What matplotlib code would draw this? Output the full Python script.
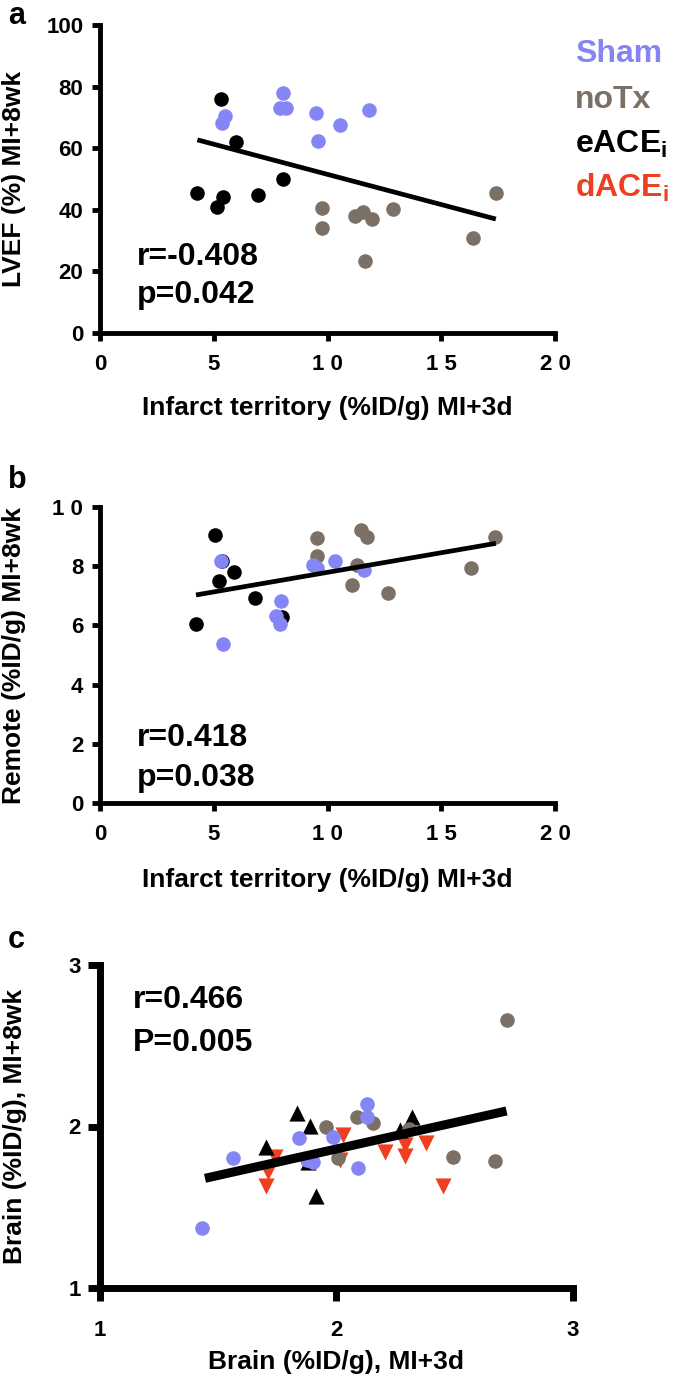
import matplotlib
matplotlib.use("Agg")
import matplotlib.pyplot as plt
import numpy as np

plt.rcParams['font.family'] = ['Liberation Sans', 'DejaVu Sans']
plt.rcParams['font.weight'] = 'bold'
plt.rcParams['mathtext.fontset'] = 'custom'
plt.rcParams['mathtext.rm'] = 'Liberation Sans:bold'
plt.rcParams['mathtext.bf'] = 'Liberation Sans:bold'

# ---------------- colours ----------------
C_SHAM = '#8585F5'
C_NOTX = '#7A7066'
C_EACE = '#000000'
C_DACE = '#EE4020'

# ---------------- panel a data ----------------
a_sham_x = [8.03, 7.91, 8.17, 5.49, 5.38, 9.49, 10.55, 9.57, 11.82]
a_sham_y = [78.0, 73.0, 73.0, 70.5, 68.3, 71.5, 67.5, 62.3, 72.4]
a_notx_x = [9.74, 9.74, 11.23, 11.54, 11.94, 12.89, 11.65, 16.40, 17.40]
a_notx_y = [40.7, 34.0, 38.1, 39.4, 37.0, 40.3, 23.4, 31.0, 45.5]
a_eace_x = [5.32, 5.96, 4.28, 5.42, 5.13, 6.96, 8.06]
a_eace_y = [76.0, 62.1, 45.4, 44.1, 41.0, 44.8, 50.0]
a_fit = (-1.96, 71.1)       # slope, intercept
a_fit_range = (4.28, 17.4)
a_xticks = [0, 5, 10, 15, 20]
a_xticklabels = ['0', '5', '1 0', '1 5', '2 0']
a_yticks = [0, 20, 40, 60, 80, 100]
a_yticklabels = ['0', '20', '40', '60', '80', '100']

# ---------------- panel b data ----------------
b_sham_x = [5.30, 5.39, 7.94, 7.72, 7.91, 9.38, 9.55, 10.35, 11.60]
b_sham_y = [8.19, 5.37, 6.83, 6.32, 6.04, 8.04, 7.95, 8.18, 7.87]
b_notx_x = [9.56, 9.52, 11.46, 11.72, 11.28, 11.06, 12.67, 16.30, 17.35]
b_notx_y = [8.94, 8.34, 9.22, 9.00, 8.04, 7.36, 7.10, 7.95, 9.00]
b_eace_x = [5.05, 5.35, 5.89, 5.23, 6.83, 4.22, 7.98]
b_eace_y = [9.05, 8.18, 7.81, 7.51, 6.94, 6.05, 6.27]
b_fit = (0.1323, 6.47)
b_fit_range = (4.22, 17.4)
b_xticks = [0, 5, 10, 15, 20]
b_xticklabels = ['0', '5', '1 0', '1 5', '2 0']
b_yticks = [0, 2, 4, 6, 8, 10]
b_yticklabels = ['0', '2', '4', '6', '8', '1 0']

# ---------------- panel c data ----------------
c_sham_x = [1.43, 1.564, 1.843, 1.987, 2.131, 2.131, 2.092, 1.874, 1.902]
c_sham_y = [1.37, 1.807, 1.927, 1.937, 2.139, 2.057, 1.741, 1.793, 1.782]
c_notx_x = [1.956, 2.085, 2.153, 2.008, 2.308, 2.494, 2.72, 2.67]
c_notx_y = [1.999, 2.061, 2.020, 1.803, 1.983, 1.809, 2.66, 1.786]
c_eace_x = [1.831, 1.888, 1.70, 1.88, 1.913, 2.32, 2.268]
c_eace_y = [2.082, 2.003, 1.875, 1.78, 1.57, 2.057, 1.978]
c_dace_x = [1.74, 1.712, 1.70, 2.029, 2.015, 2.205, 2.29, 2.29, 2.38, 2.45]
c_dace_y = [1.813, 1.72, 1.632, 1.947, 1.79, 1.845, 1.885, 1.82, 1.895, 1.632]
c_fit = (0.327, 1.207)
c_fit_range = (1.444, 2.719)
c_ticks = [1, 2, 3]
c_ticklabels = ['1', '2', '3']

W, H = 685, 1386
fig = plt.figure(figsize=(W / 100, H / 100), dpi=100)


def box(l, t, r, b):
    return [l / W, 1 - b / H, (r - l) / W, (b - t) / H]


def ftext(x, y, s, **kw):
    fig.text(x / W, 1 - y / H, s, fontweight='bold', **kw)


def style(ax, lw, tl, fs, xpad, ypad):
    for s in ['top', 'right']:
        ax.spines[s].set_visible(False)
    for s in ['left', 'bottom']:
        ax.spines[s].set_linewidth(lw)
        ax.spines[s].set_capstyle('projecting')
    ax.tick_params(width=lw, length=tl, labelsize=fs, direction='out')
    ax.tick_params(axis='x', pad=xpad)
    ax.tick_params(axis='y', pad=ypad)
    for lab in ax.get_xticklabels() + ax.get_yticklabels():
        lab.set_fontweight('bold')


def place_labels(ax, l, t, r, b, ylab_right_px, xlab_top_px):
    w = r - l
    h = b - t
    ax.yaxis.set_label_coords((ylab_right_px - l) / w, 0.5)
    ax.xaxis.set_label_coords(0.5, -(xlab_top_px - b) / h)


MS = 110
MT = 135
LAB = 19
TICK = 16
ANN = 23

# ---- panel a ----
A = (100, 25, 555, 333)
axa = fig.add_axes(box(*A))
axa.scatter(a_eace_x, a_eace_y, s=MS, c=C_EACE, linewidths=0, zorder=3, clip_on=False)
axa.scatter(a_notx_x, a_notx_y, s=MS, c=C_NOTX, linewidths=0, zorder=3, clip_on=False)
axa.scatter(a_sham_x, a_sham_y, s=MS, c=C_SHAM, linewidths=0, zorder=3, clip_on=False)
xf = np.array(a_fit_range)
axa.plot(xf, a_fit[0] * xf + a_fit[1], color='black', lw=3.4, zorder=4, solid_capstyle='butt')
axa.set_xlim(0, 20)
axa.set_ylim(0, 100)
axa.set_xticks(a_xticks, a_xticklabels)
axa.set_yticks(a_yticks, a_yticklabels)
style(axa, 3.5, 6, TICK, 9, 6)
axa.set_xlabel('Infarct territory (%ID/g) MI+3d', fontsize=LAB, fontweight='bold')
axa.set_ylabel('LVEF (%) MI+8wk', fontsize=LAB, fontweight='bold')
place_labels(axa, *A, 26, 396)
ftext(137, 265, 'r=-0.408', fontsize=ANN, va='baseline')
ftext(137, 303, 'p=0.042', fontsize=ANN, va='baseline')

# legend text
ftext(575, 62, 'Sham', color=C_SHAM, fontsize=23, va='baseline')
ftext(575, 108, 'noTx', color=C_NOTX, fontsize=23, va='baseline')
ftext(575, 153, r'eACE$_\mathbf{i}$', color=C_EACE, fontsize=23, va='baseline')
ftext(575, 197, r'dACE$_\mathbf{i}$', color=C_DACE, fontsize=23, va='baseline')

# ---- panel b ----
B = (100, 507, 555, 803)
axb = fig.add_axes(box(*B))
axb.scatter(b_eace_x, b_eace_y, s=MS, c=C_EACE, linewidths=0, zorder=3, clip_on=False)
axb.scatter(b_notx_x, b_notx_y, s=MS, c=C_NOTX, linewidths=0, zorder=3, clip_on=False)
axb.scatter(b_sham_x, b_sham_y, s=MS, c=C_SHAM, linewidths=0, zorder=3, clip_on=False)
xf = np.array(b_fit_range)
axb.plot(xf, b_fit[0] * xf + b_fit[1], color='black', lw=3.4, zorder=4, solid_capstyle='butt')
axb.set_xlim(0, 20)
axb.set_ylim(0, 10)
axb.set_xticks(b_xticks, b_xticklabels)
axb.set_yticks(b_yticks, b_yticklabels)
style(axb, 3.5, 6, TICK, 9, 6)
axb.set_xlabel('Infarct territory (%ID/g) MI+3d', fontsize=LAB, fontweight='bold')
axb.set_ylabel('Remote (%ID/g) MI+8wk', fontsize=LAB, fontweight='bold')
place_labels(axb, *B, 26, 868)
ftext(137, 746, 'r=0.418', fontsize=ANN, va='baseline')
ftext(137, 786, 'p=0.038', fontsize=ANN, va='baseline')

# ---- panel c ----
Cc = (100, 965, 573, 1288)
axc = fig.add_axes(box(*Cc))
axc.scatter(c_dace_x, c_dace_y, s=MT, c=C_DACE, marker='v', linewidths=0, zorder=3)
axc.scatter(c_eace_x, c_eace_y, s=MT, c=C_EACE, marker='^', linewidths=0, zorder=3)
axc.scatter(c_notx_x, c_notx_y, s=MS, c=C_NOTX, linewidths=0, zorder=3)
axc.scatter(c_sham_x, c_sham_y, s=MS, c=C_SHAM, linewidths=0, zorder=3)
xf = np.array(c_fit_range)
axc.plot(xf, c_fit[0] * xf + c_fit[1], color='black', lw=6.5, zorder=4, solid_capstyle='butt')
axc.set_xlim(1, 3)
axc.set_ylim(1, 3)
axc.set_xticks(c_ticks, c_ticklabels)
axc.set_yticks(c_ticks, c_ticklabels)
style(axc, 5, 9, TICK, 14, 5)
axc.set_xlabel('Brain (%ID/g), MI+3d', fontsize=LAB, fontweight='bold')
axc.set_ylabel('Brain (%ID/g), MI+8wk', fontsize=LAB, fontweight='bold')
place_labels(axc, *Cc, 27, 1350)
ftext(133, 1008, 'r=0.466', fontsize=ANN, va='baseline')
ftext(133, 1051, 'P=0.005', fontsize=ANN, va='baseline')

# panel letters
ftext(8, 16, 'a', fontsize=22, va='center')
ftext(8, 480, 'b', fontsize=22, va='center')
ftext(8, 940, 'c', fontsize=22, va='center')

fig.savefig('out.png', dpi=100)
